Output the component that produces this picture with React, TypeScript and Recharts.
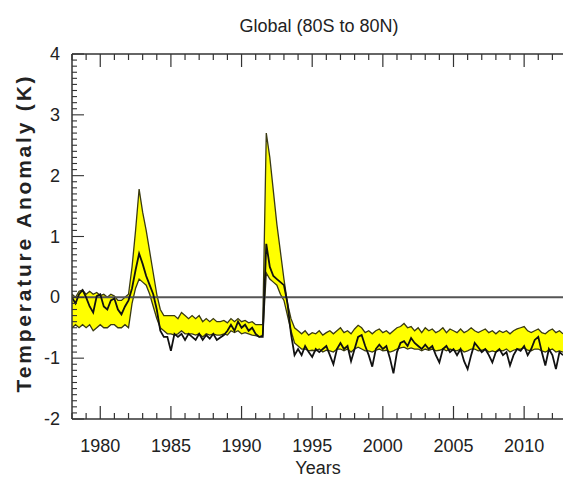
import { ComposedChart, Area, Line, XAxis, YAxis, ReferenceLine } from 'recharts';

// quarterly samples starting 1978.0
const START = 1978;
const STEP = 0.25;

const upper = [
  0.05, 0.0, 0.1, 0.12,
  0.05, 0.1, 0.05, 0.08,
  0.03, 0.05, 0.0, 0.05,
  0.02, -0.05, -0.05, 0.0,
  0.05, 0.5, 1.1, 1.78,
  1.4, 1.1, 0.75, 0.4,
  0.05, -0.2, -0.3, -0.3,
  -0.3, -0.3, -0.35, -0.25,
  -0.3, -0.35, -0.3, -0.35,
  -0.3, -0.4, -0.35, -0.4,
  -0.35, -0.4, -0.4, -0.38,
  -0.42, -0.35, -0.4, -0.35,
  -0.4, -0.38, -0.42, -0.4,
  -0.45, -0.45, -0.45, 2.7,
  2.3, 1.75, 1.2, 0.75,
  0.3, -0.1, -0.35, -0.5,
  -0.55, -0.6, -0.55, -0.62,
  -0.58, -0.6, -0.55, -0.62,
  -0.58, -0.55, -0.6, -0.55,
  -0.5, -0.58, -0.55, -0.6,
  -0.52, -0.46, -0.5, -0.58,
  -0.55, -0.6, -0.55, -0.52,
  -0.58, -0.55, -0.6, -0.55,
  -0.5, -0.48, -0.43, -0.5,
  -0.48, -0.55, -0.5, -0.58,
  -0.5, -0.55, -0.52, -0.58,
  -0.55, -0.5, -0.58, -0.52,
  -0.55, -0.58, -0.52, -0.58,
  -0.55, -0.5, -0.55, -0.58,
  -0.55, -0.52, -0.58, -0.55,
  -0.6, -0.55, -0.58, -0.55,
  -0.6, -0.55, -0.52, -0.5,
  -0.48, -0.55, -0.58, -0.55,
  -0.52, -0.58, -0.6, -0.55,
  -0.52, -0.58, -0.55, -0.6,
];

const lower = [
  -0.5, -0.45, -0.5, -0.45,
  -0.5, -0.45, -0.55, -0.5,
  -0.45, -0.5, -0.5, -0.45,
  -0.45, -0.5, -0.5, -0.45,
  -0.5, -0.1, 0.15, 0.3,
  0.25, 0.2, 0.05, -0.15,
  -0.35, -0.5, -0.55, -0.6,
  -0.6, -0.62, -0.6, -0.55,
  -0.6, -0.6, -0.6, -0.62,
  -0.6, -0.65, -0.6, -0.62,
  -0.6, -0.62, -0.62, -0.6,
  -0.62, -0.55, -0.58, -0.55,
  -0.6, -0.58, -0.6, -0.62,
  -0.63, -0.65, -0.62, 0.4,
  0.3, 0.25, 0.2, 0.05,
  -0.05, -0.3, -0.55, -0.75,
  -0.8, -0.85, -0.85, -0.88,
  -0.87, -0.88, -0.85, -0.9,
  -0.87, -0.88, -0.9, -0.85,
  -0.85, -0.88, -0.85, -0.9,
  -0.85, -0.82, -0.85, -0.88,
  -0.88, -0.9, -0.87, -0.85,
  -0.88, -0.87, -0.9, -0.88,
  -0.85, -0.83, -0.82, -0.85,
  -0.83, -0.85, -0.85, -0.88,
  -0.85, -0.87, -0.85, -0.88,
  -0.87, -0.85, -0.88, -0.85,
  -0.87, -0.88, -0.85, -0.9,
  -0.88, -0.85, -0.85, -0.88,
  -0.87, -0.85, -0.9, -0.88,
  -0.9, -0.87, -0.88, -0.85,
  -0.9, -0.87, -0.85, -0.85,
  -0.83, -0.87, -0.88, -0.85,
  -0.85, -0.88, -0.9, -0.87,
  -0.85, -0.9, -0.88, -0.9,
];

const mean = [
  0.0, -0.1, 0.05, 0.12,
  0.0, -0.15, -0.25, 0.02,
  0.05, -0.15, -0.2, -0.05,
  -0.02, -0.2, -0.28, -0.15,
  -0.05, 0.15, 0.45, 0.72,
  0.55, 0.35, 0.2, 0.05,
  -0.2, -0.55, -0.65, -0.65,
  -0.88, -0.6, -0.65, -0.6,
  -0.7, -0.6, -0.65, -0.7,
  -0.6, -0.7, -0.62, -0.68,
  -0.6, -0.7, -0.66, -0.62,
  -0.55, -0.45, -0.55, -0.4,
  -0.5, -0.45, -0.55, -0.5,
  -0.6, -0.65, -0.65, 0.88,
  0.5, 0.35, 0.3, 0.25,
  0.2, -0.1, -0.6, -0.95,
  -0.85, -0.95, -0.8, -0.9,
  -0.98, -0.85, -0.9, -0.85,
  -0.8, -0.95, -1.1, -0.85,
  -0.75, -0.85, -0.8, -1.05,
  -0.85, -0.65, -0.62, -0.8,
  -0.95, -1.14, -0.85, -0.78,
  -0.85, -0.8, -1.0, -1.25,
  -0.9, -0.75, -0.72, -0.8,
  -0.67, -0.75, -0.8, -0.85,
  -0.78, -0.85, -0.8, -0.95,
  -1.07, -0.85, -0.8, -0.9,
  -0.85, -0.95, -0.85, -1.05,
  -1.18, -0.95, -0.75, -0.82,
  -0.9, -0.85, -0.95, -1.07,
  -0.9, -0.85, -0.95, -0.9,
  -1.12, -0.95, -0.85, -0.88,
  -0.8, -0.95, -0.85, -0.7,
  -0.65, -0.9, -1.12, -0.85,
  -0.95, -1.18, -0.9, -0.95,
];

const yearLabels = [1980, 1985, 1990, 1995, 2000, 2005, 2010];
const yLabels = [-2, -1, 0, 1, 2, 3, 4];

const data = mean.map((m, i) => ({
  year: START + i * STEP,
  band: [lower[i], upper[i]],
  mean: m,
}));

const yearTicks = Array.from({ length: 35 }, (_, i) => 1978 + i);
const yTicks = Array.from({ length: 61 }, (_, i) => (i - 20) / 10);

const FONT = '"Liberation Sans", Arial, Helvetica, sans-serif';
const AXIS = '#333';

const isMajorY = (v: number) => yLabels.some((l) => Math.abs(l - v) < 1e-6);

const BottomTick = (props: any) => {
  const { x, y, payload } = props;
  const major = yearLabels.includes(payload.value);
  return (
    <g>
      <line x1={x} x2={x} y1={y} y2={y - (major ? 13 : 6)} stroke={AXIS} strokeWidth={1.2} />
      {major && (
        <text x={x} y={y + 33} textAnchor="middle" fontSize={18} fontFamily={FONT} fill="#222">
          {payload.value}
        </text>
      )}
    </g>
  );
};

const TopTick = (props: any) => {
  const { x, y, payload } = props;
  const major = yearLabels.includes(payload.value);
  return <line x1={x} x2={x} y1={y} y2={y + (major ? 13 : 6)} stroke={AXIS} strokeWidth={1.2} />;
};

const LeftTick = (props: any) => {
  const { x, y, payload } = props;
  const major = isMajorY(payload.value);
  return (
    <g>
      <line x1={x} x2={x + (major ? 12 : 5)} y1={y} y2={y} stroke={AXIS} strokeWidth={1.1} />
      {major && (
        <text x={x - 12} y={y + 6} textAnchor="end" fontSize={18} fontFamily={FONT} fill="#222">
          {Math.round(payload.value)}
        </text>
      )}
    </g>
  );
};

export default function App() {
  return (
    <div style={{ position: 'absolute', left: 0, top: 0, width: 563, height: 480, background: '#fff' }}>
      <ComposedChart width={563} height={480} data={data} margin={{ top: 0, right: 0, bottom: 0, left: 0 }}>
        <XAxis
          xAxisId="b"
          dataKey="year"
          type="number"
          domain={[1978, 2012.75]}
          allowDataOverflow
          ticks={yearTicks}
          interval={0}
          tickSize={0}
          tickMargin={0}
          tickLine={false}
          tick={<BottomTick />}
          axisLine={{ stroke: AXIS, strokeWidth: 1.5 }}
          height={61}
        />
        <XAxis
          xAxisId="t"
          orientation="top"
          dataKey="year"
          type="number"
          domain={[1978, 2012.75]}
          allowDataOverflow
          ticks={yearTicks}
          interval={0}
          tickSize={0}
          tickMargin={0}
          tickLine={false}
          tick={<TopTick />}
          axisLine={{ stroke: AXIS, strokeWidth: 1.5 }}
          height={54}
        />
        <YAxis
          type="number"
          domain={[-2, 4]}
          ticks={yTicks}
          interval={0}
          tickSize={0}
          tickMargin={0}
          tickLine={false}
          tick={<LeftTick />}
          axisLine={{ stroke: AXIS, strokeWidth: 1.5 }}
          width={72}
        />
        <Area
          xAxisId="b"
          type="linear"
          dataKey="band"
          stroke="#3a3a12"
          strokeWidth={1.3}
          fill="#ffff00"
          fillOpacity={1}
          isAnimationActive={false}
        />
        <ReferenceLine xAxisId="b" y={0} stroke="#555" strokeWidth={2} />
        <Line
          xAxisId="b"
          type="linear"
          dataKey="mean"
          stroke="#111"
          strokeWidth={1.8}
          dot={false}
          isAnimationActive={false}
        />
      </ComposedChart>
      <svg
        width={563}
        height={480}
        style={{ position: 'absolute', left: 0, top: 0, pointerEvents: 'none' }}
      >
        <text x={319} y={26} textAnchor="middle" dominantBaseline="central" fontSize={18} fontFamily={FONT} fill="#222">
          Global (80S to 80N)
        </text>
        <text
          x={23}
          y={233}
          transform="rotate(-90, 23, 233)"
          textAnchor="middle"
          dominantBaseline="central"
          fontSize={21}
          fontWeight="bold"
          letterSpacing={2.8}
          fontFamily={FONT}
          fill="#222"
        >
          Temperature Anomaly (K)
        </text>
        <text x={318} y={468} textAnchor="middle" dominantBaseline="central" fontSize={18} fontFamily={FONT} fill="#222">
          Years
        </text>
      </svg>
    </div>
  );
}
